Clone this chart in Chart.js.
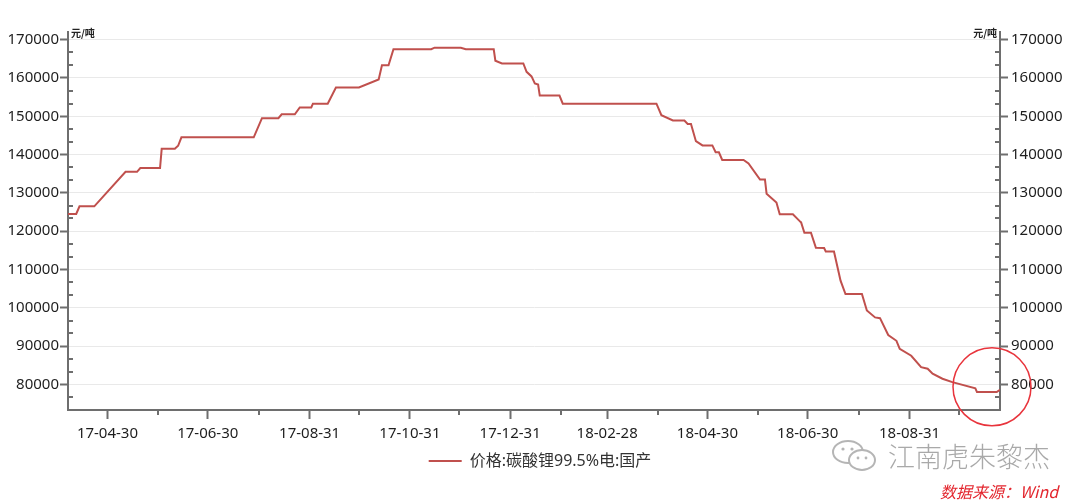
<!DOCTYPE html>
<html lang="zh-CN">
<head>
<meta charset="utf-8">
<title>价格:碳酸锂99.5%电:国产</title>
<script src="https://cdn.jsdelivr.net/npm/chart.js@4.4.1/dist/chart.umd.min.js"></script>
<style>
  body { margin: 0; background: #fff; }
  #wrap { position: relative; width: 1080px; height: 500px; overflow: hidden; }
  #grafico { display: block; }
  .marca { position: absolute; left: 830px; top: 436px; display: flex; align-items: center;
           color: #a9a9a9; font: 300 27px "Noto Sans CJK SC", sans-serif; letter-spacing: 0px;
           text-shadow: 0 0 2px #fff; }
  .marca svg { margin-right: 8px; }
  .fonte { position: absolute; left: 940px; top: 479px; color: #e3262e; font-style: italic;
           font: italic 16px "Noto Sans CJK SC", "Noto Sans", sans-serif; }
</style>
</head>
<body>
<div id="wrap">
  <canvas id="grafico" width="1080" height="500"></canvas>
  <div class="marca">
    <svg width="50" height="36" viewBox="0 0 50 36">
      <ellipse cx="18" cy="14" rx="15" ry="11" fill="none" stroke="#b5b5b5" stroke-width="2"/>
      <ellipse cx="32" cy="22" rx="13" ry="10" fill="#fff" stroke="#b5b5b5" stroke-width="2"/>
      <circle cx="13" cy="11" r="1.6" fill="#b5b5b5"/><circle cx="22" cy="11" r="1.6" fill="#b5b5b5"/>
      <circle cx="28" cy="20" r="1.4" fill="#b5b5b5"/><circle cx="36" cy="20" r="1.4" fill="#b5b5b5"/>
    </svg>
    <span>江南虎朱黎杰</span>
  </div>
  <div class="fonte">数据来源：Wind</div>
</div>
<script>
// dados (pontos de quebra da série, preço em 元/吨)
const datas = [
  '2017-04-06','2017-04-11','2017-04-13','2017-04-22','2017-05-11','2017-05-18','2017-05-20',
  '2017-06-01','2017-06-02','2017-06-10','2017-06-12','2017-06-14','2017-07-28','2017-08-02',
  '2017-08-12','2017-08-14','2017-08-22','2017-08-25','2017-09-01','2017-09-02','2017-09-11',
  '2017-09-16','2017-09-30','2017-10-12','2017-10-14','2017-10-18','2017-10-21','2017-11-13',
  '2017-11-15','2017-12-01','2017-12-04','2017-12-21','2017-12-22','2017-12-26','2018-01-08',
  '2018-01-10','2018-01-13','2018-01-15','2018-01-17','2018-01-18','2018-01-30','2018-02-01',
  '2018-03-30','2018-04-02','2018-04-09','2018-04-16','2018-04-18','2018-04-20','2018-04-23',
  '2018-04-27','2018-05-03','2018-05-05','2018-05-07','2018-05-09','2018-05-22','2018-05-25',
  '2018-06-01','2018-06-04','2018-06-05','2018-06-11','2018-06-13','2018-06-21','2018-06-25',
  '2018-06-26','2018-06-28','2018-07-02','2018-07-05','2018-07-10','2018-07-11','2018-07-16',
  '2018-07-20','2018-07-23','2018-08-02','2018-08-05','2018-08-10','2018-08-13','2018-08-18',
  '2018-08-23','2018-08-25','2018-09-01','2018-09-07','2018-09-11','2018-09-14','2018-09-20',
  '2018-09-26','2018-10-10','2018-10-11','2018-10-23','2018-10-25'
];
const precos = [
  124500,124500,126500,126500,135500,135500,136500,
  136500,141500,141500,142300,144500,144500,149500,
  149500,150500,150500,152300,152300,153300,153300,
  157500,157500,159600,163300,163300,167500,167500,
  167900,167900,167500,167500,164500,163800,163800,
  161600,160400,158600,158300,155400,155400,153300,
  153300,150300,148900,148900,148000,148000,143500,
  142400,142400,140600,140600,138600,138600,137700,
  133500,133500,129800,127500,124400,124400,122700,
  122300,119600,119600,115700,115600,114700,114700,
  107100,103600,103600,99300,97500,97300,92900,
  91400,89300,87500,84500,84100,82800,81500,
  80600,79000,78000,78000,78600
];
const rotulosX = ['2017-04-30','2017-06-30','2017-08-31','2017-10-31','2017-12-31',
                  '2018-02-28','2018-04-30','2018-06-30','2018-08-31'];
const ticksY = [80000, 90000, 100000, 110000, 120000, 130000, 140000, 150000, 160000, 170000];
const nomeSerie = '价格:碳酸锂99.5%电:国产';
const unidade = '元/吨';

const yMin = 73333.33, yMax = 172000, passoMenor = 10000 / 3;

// dia relativo a 2017-01-01
function diaNum(s) {
  const [a, m, d] = s.split('-').map(Number);
  return (Date.UTC(a, m - 1, d) - Date.UTC(2017, 0, 1)) / 86400000;
}

const xMin = diaNum(datas[0]);
const xMax = diaNum(datas[datas.length - 1]);

// fins de mês sem rótulo -> ticks menores
const diasMenores = [];
for (let a = 2017; a <= 2018; a++) {
  for (let m = 1; m <= 12; m++) {
    const fim = (Date.UTC(a, m, 0) - Date.UTC(2017, 0, 1)) / 86400000;
    if (fim > xMin && fim < xMax && !rotulosX.some(r => diaNum(r) === fim)) diasMenores.push(fim);
  }
}

const fonteEixo = { family: '"Noto Sans", "Noto Sans CJK SC", sans-serif', size: 15 };
const corEixo = '#6e6e6e';

const extras = {
  id: 'extras',
  afterDraw(chart) {
    const ctx = chart.ctx;
    const sx = chart.scales.x, sy = chart.scales.y, area = chart.chartArea;
    ctx.save();
    ctx.strokeStyle = corEixo;
    ctx.lineWidth = 2;
    ctx.beginPath();
    for (let v = yMin + passoMenor; v < yMax; v += passoMenor) {
      if (Math.abs(v / 10000 - Math.round(v / 10000)) < 1e-4) continue;
      const py = Math.round(sy.getPixelForValue(v));
      ctx.moveTo(area.left, py); ctx.lineTo(area.left + 5, py);
      ctx.moveTo(area.right, py); ctx.lineTo(area.right - 5, py);
    }
    diasMenores.forEach(d => {
      const px = Math.round(sx.getPixelForValue(d));
      ctx.moveTo(px, area.bottom); ctx.lineTo(px, area.bottom + 5);
    });
    ctx.stroke();

    // unidade no topo dos eixos
    ctx.fillStyle = '#222';
    ctx.font = 'bold 10px "Noto Sans CJK SC", sans-serif';
    ctx.textBaseline = 'alphabetic';
    ctx.textAlign = 'left';
    ctx.fillText(unidade, area.left + 3, area.top + 5);
    ctx.textAlign = 'right';
    ctx.fillText(unidade, area.right - 3, area.top + 5);

    // círculo vermelho em volta do último valor
    const n = datas.length - 1;
    const cx = sx.getPixelForValue(diaNum(datas[n])) - 8;
    const cy = sy.getPixelForValue(precos[n]) - 3;
    ctx.strokeStyle = '#e8343c';
    ctx.lineWidth = 1.5;
    ctx.beginPath();
    ctx.arc(cx, cy, 39, 0, Math.PI * 2);
    ctx.stroke();
    ctx.restore();
  }
};

new Chart(document.getElementById('grafico'), {
  type: 'line',
  data: {
    datasets: [{
      label: nomeSerie,
      data: datas.map((d, i) => ({ x: diaNum(d), y: precos[i] })),
      borderColor: '#c0504d',
      backgroundColor: '#c0504d',
      borderWidth: 2,
      pointRadius: 0,
      tension: 0,
      yAxisID: 'y'
    }]
  },
  options: {
    responsive: false,
    animation: false,
    layout: { padding: { top: 32, left: 0, right: 0, bottom: 21 } },
    plugins: {
      tooltip: { enabled: false },
      legend: {
        position: 'bottom',
        labels: {
          usePointStyle: true,
          pointStyle: 'line',
          pointStyleWidth: 33,
          color: '#333',
          padding: 10,
          font: { family: '"Noto Sans", "Noto Sans CJK SC", sans-serif', size: 16 }
        }
      }
    },
    scales: {
      x: {
        type: 'linear',
        min: xMin,
        max: xMax,
        afterBuildTicks: s => { s.ticks = rotulosX.map(r => ({ value: diaNum(r) })); },
        afterFit: s => { s.height = 33; },
        ticks: {
          autoSkip: false,
          maxRotation: 0,
          padding: 6,
          color: '#1e1e1e',
          font: fonteEixo,
          callback: (v, i) => rotulosX[i].slice(2)
        },
        grid: { drawOnChartArea: false, tickLength: 9, tickColor: corEixo, tickWidth: 2 },
        border: { color: corEixo, width: 2 }
      },
      y: {
        position: 'left',
        min: yMin,
        max: yMax,
        afterBuildTicks: s => { s.ticks = ticksY.map(v => ({ value: v })); },
        afterFit: s => { s.width = 68; },
        ticks: { color: '#1e1e1e', font: fonteEixo, padding: 1, callback: v => String(v) },
        grid: { color: '#e9e9e9', lineWidth: 1, tickLength: 8, tickColor: corEixo, tickWidth: 2 },
        border: { color: corEixo, width: 2 }
      },
      y2: {
        position: 'right',
        display: true,
        min: yMin,
        max: yMax,
        afterBuildTicks: s => { s.ticks = ticksY.map(v => ({ value: v })); },
        afterFit: s => { s.width = 80; },
        ticks: { color: '#1e1e1e', font: fonteEixo, padding: 3, callback: v => String(v) },
        grid: { drawOnChartArea: false, tickLength: 8, tickColor: corEixo, tickWidth: 2 },
        border: { color: corEixo, width: 2 }
      }
    }
  },
  plugins: [extras]
});
</script>
</body>
</html>
